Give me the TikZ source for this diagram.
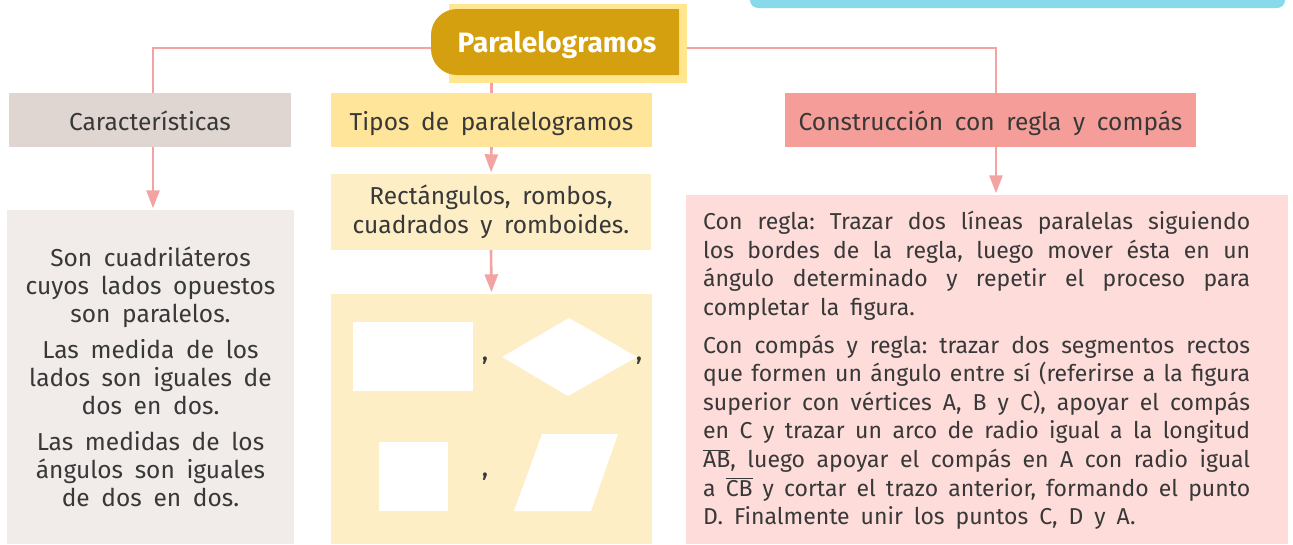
\documentclass[tikz,border=0pt]{standalone}
\usepackage{fontspec}
\setmainfont{Fira Sans}[WordSpace=1.8]
\usetikzlibrary{positioning, arrows.meta}
\definecolor{linkPink}{HTML}{F4A3A3}
\definecolor{titleGold}{HTML}{D4A00F}
\definecolor{titleBack}{HTML}{FFE68F}
\definecolor{caracHead}{HTML}{DFD6D2}
\definecolor{caracBody}{HTML}{F1ECE9}
\definecolor{tiposHead}{HTML}{FFE59A}
\definecolor{tiposBody}{HTML}{FDEEC6}
\definecolor{constHead}{HTML}{F59E99}
\definecolor{constBody}{HTML}{FDDCDA}
\definecolor{skyBlob}{HTML}{88D9E9}
\definecolor{inkGray}{HTML}{383838}
\newcommand{\segm}[1]{\ensuremath{\overline{\hbox{#1}}}}
\frenchspacing

\begin{document}
\begin{tikzpicture}[x=1pt, y=-1pt,
  link/.style={draw=linkPink, line width=2.6pt},
  arrowlink/.style={link, -{Triangle[width=13pt,length=18pt]}, shorten >=1.5pt},
  headbox/.style={inner sep=0pt, minimum height=54pt, text height=20pt, text depth=0pt,
    text=inkGray, font=\fontsize{24.5}{28}\selectfont},
  bodybox/.style={inner sep=0pt, text=inkGray},
]
  \useasboundingbox (0,0) rectangle (1293,544);
  \fill[skyBlob, rounded corners=8pt] (750,-20) rectangle (1285,8);

  % headers
  \node[headbox, fill=caracHead, minimum width=282pt] (carac) at (150,120) {Características};
  \node[headbox, fill=tiposHead, minimum width=321pt] (tipos) at (491.5,120) {Tipos de paralelogramos};
  \node[headbox, fill=constHead, minimum width=411pt] (constr) at (990.5,120) {Construcción con regla y compás};

  % joins of the tree
  \coordinate (ljoin) at (153,48);
  \coordinate (rjoin) at (996,48);
  \draw[link] (carac.north -| ljoin) |- (rjoin) -- (rjoin |- constr.north);

  % title
  \node[fill=titleBack, minimum width=238pt, minimum height=79pt, inner sep=0pt] (titlebg) at (568,43.5) {};
  \fill[titleGold, rounded corners=26pt] (679,9) -- (431,9) -- (431,75) -- (679,75);
  \fill[titleGold] (555,9) rectangle (679,75);
  \node[inner sep=0pt, text height=20pt, text depth=0pt, text=white,
    font=\bfseries\fontsize{28}{30}\selectfont] (title) at (557,42) {Paralelogramos};
  \draw[link] (titlebg.south -| tipos.north) -- (tipos.north);

  % bodies
  \node[bodybox, fill=caracBody, minimum width=287pt, minimum height=334pt, align=center,
    font=\fontsize{24.5}{28}\selectfont] (carbody) at (150.5,377)
    {Son cuadriláteros\\ cuyos lados opuestos\\ son paralelos.\\[8pt]
     Las medida de los\\ lados son iguales de\\ dos en dos.\\[8pt]
     Las medidas de los\\ ángulos son iguales\\ de dos en dos.};
  \node[bodybox, fill=tiposBody, minimum width=320pt, minimum height=76pt, align=center,
    font=\fontsize{24.5}{28.5}\selectfont] (tiposlist) at (491,212)
    {Rectángulos, rombos,\\ cuadrados y romboides.};
  \node[fill=tiposBody, minimum width=321pt, minimum height=250pt, inner sep=0pt] (shapes) at (491.5,419) {};
  \node[fill=constBody, minimum width=602pt, minimum height=349pt, inner sep=0pt] (conbody) at (987,369.5) {};
  \node[bodybox, text width=547pt, align=justify, anchor=north west,
    font=\fontsize{23}{28.6}\selectfont] (context) at (703,211)
    {Con regla: Trazar dos líneas paralelas siguiendo\linebreak
     los bordes de la regla, luego mover ésta en un\linebreak
     ángulo determinado y repetir el proceso para\linebreak
     completar la figura.\par\vspace{9pt}
     Con compás y regla: trazar dos segmentos rectos\linebreak
     que formen un ángulo entre sí (referirse a la figura\linebreak
     superior con vértices A, B y C), apoyar el compás\linebreak
     en C y trazar un arco de radio igual a la longitud\linebreak
     \segm{AB}, luego apoyar el compás en A con radio igual\linebreak
     a \segm{CB} y cortar el trazo anterior, formando el punto\linebreak
     D. Finalmente unir los puntos C, D y A.};

  % arrows
  \draw[arrowlink] (carac.south -| ljoin) -- (carbody.north -| ljoin);
  \draw[arrowlink] (tipos.south) -- (tiposlist.north);
  \draw[arrowlink] (tiposlist.south) -- (shapes.north);
  \draw[arrowlink] (constr.south -| rjoin) -- (conbody.north -| rjoin);

  % the four parallelograms
  \fill[white] (353,322) rectangle (473,391);
  \fill[white] (502,357) -- (569,318) -- (637,357) -- (568,396) -- cycle;
  \fill[white] (379,442) rectangle (448,511);
  \fill[white] (514,511) -- (591,511) -- (618,434) -- (542,434) -- cycle;
  \node[anchor=base, inner sep=0pt, text=inkGray, font=\bfseries\fontsize{22}{24}\selectfont] (commaA) at (485,360) {,};
  \node[anchor=base, inner sep=0pt, text=inkGray, font=\bfseries\fontsize{22}{24}\selectfont] (commaB) at (639,360) {,};
  \node[anchor=base, inner sep=0pt, text=inkGray, font=\bfseries\fontsize{22}{24}\selectfont] (commaC) at (485,476) {,};
\end{tikzpicture}
\end{document}
